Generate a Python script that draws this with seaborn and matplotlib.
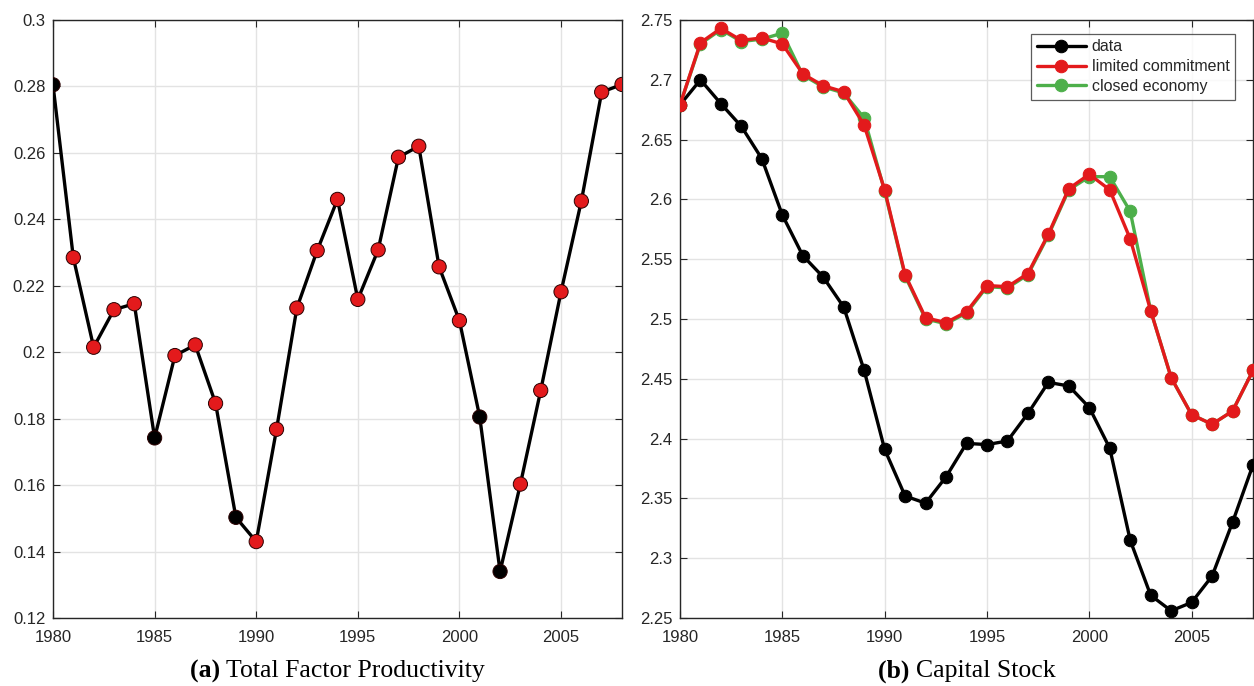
import numpy as np
import pandas as pd
import matplotlib
matplotlib.use("Agg")
import matplotlib.pyplot as plt
import seaborn as sns

years = list(range(1980, 2009))

tfp = [0.2805, 0.2285, 0.2015, 0.2128, 0.2146, 0.1742, 0.1990, 0.2022, 0.1846, 0.1503,
       0.1430, 0.1768, 0.2133, 0.2306, 0.2460, 0.2159, 0.2308, 0.2587, 0.2620, 0.2257,
       0.2095, 0.1805, 0.1340, 0.1603, 0.1885, 0.2182, 0.2455, 0.2783, 0.2806]
# years whose TFP point is drawn in black rather than red
tfp_black_years = [1980, 1985, 1989, 2001, 2002]

k_data = [2.679, 2.700, 2.680, 2.661, 2.634, 2.587, 2.553, 2.535, 2.510, 2.457,
          2.391, 2.352, 2.346, 2.368, 2.396, 2.395, 2.398, 2.421, 2.447, 2.444,
          2.426, 2.392, 2.315, 2.269, 2.256, 2.263, 2.285, 2.330, 2.378]
k_limited = [2.679, 2.731, 2.743, 2.733, 2.735, 2.730, 2.705, 2.695, 2.690, 2.662,
             2.608, 2.537, 2.501, 2.497, 2.506, 2.528, 2.527, 2.538, 2.571, 2.609,
             2.621, 2.608, 2.567, 2.507, 2.451, 2.420, 2.412, 2.423, 2.457]
k_closed = [2.679, 2.730, 2.742, 2.732, 2.734, 2.739, 2.704, 2.694, 2.689, 2.668,
            2.607, 2.536, 2.500, 2.496, 2.505, 2.527, 2.526, 2.537, 2.570, 2.608,
            2.619, 2.619, 2.590, 2.507, 2.451, 2.420, 2.412, 2.423, 2.457]

series_names = ["data", "limited commitment", "closed economy"]
series_colors = ["#000000", "#e31a1c", "#4daf4a"]
# drawing order, bottom to top
draw_order = ["closed economy", "data", "limited commitment"]

xticks = [1980, 1985, 1990, 1995, 2000, 2005]
tfp_ticks = [0.12, 0.14, 0.16, 0.18, 0.2, 0.22, 0.24, 0.26, 0.28, 0.3]
tfp_ticklabels = ["0.12", "0.14", "0.16", "0.18", "0.2", "0.22", "0.24", "0.26", "0.28", "0.3"]
k_ticks = [2.25, 2.3, 2.35, 2.4, 2.45, 2.5, 2.55, 2.6, 2.65, 2.7, 2.75]
k_ticklabels = ["2.25", "2.3", "2.35", "2.4", "2.45", "2.5", "2.55", "2.6", "2.65", "2.7", "2.75"]

captions = [("(a)", "Total Factor Productivity"), ("(b)", "Capital Stock")]

sns.set_theme(style="whitegrid")
plt.rcParams["font.family"] = ["Liberation Sans", "DejaVu Sans"]

W, H = 1254, 686
fig = plt.figure(figsize=(W / 100, H / 100), dpi=100)
ax1 = fig.add_axes([53 / W, 1 - 618 / H, (622 - 53) / W, (618 - 20) / H])
ax2 = fig.add_axes([680 / W, 1 - 618 / H, (1253 - 680) / W, (618 - 20) / H])

# Panel (a): TFP
df_tfp = pd.DataFrame({"year": years, "tfp": tfp})
df_tfp["kind"] = np.where(df_tfp["year"].isin(tfp_black_years), "black", "red")
sns.lineplot(data=df_tfp, x="year", y="tfp", ax=ax1, color="black", lw=2.4, zorder=3)
sns.scatterplot(data=df_tfp, x="year", y="tfp", hue="kind",
                palette={"black": "#000000", "red": "#e31a1c"},
                s=105, edgecolor="#2a0000", linewidth=0.7, ax=ax1, zorder=4, legend=False)
ax1.set_ylim(0.12, 0.3)
ax1.set_yticks(tfp_ticks)
ax1.set_yticklabels(tfp_ticklabels)

# Panel (b): capital stock
df_k = pd.DataFrame({
    "year": years * 3,
    "value": k_data + k_limited + k_closed,
    "series": np.repeat(series_names, len(years)),
})
for z, name in enumerate(draw_order):
    i = series_names.index(name)
    sns.lineplot(data=df_k[df_k["series"] == name], x="year", y="value", ax=ax2,
                 color=series_colors[i], lw=2.4, marker="o", markersize=9,
                 markeredgecolor=series_colors[i], label=name, zorder=3 + z)
ax2.set_ylim(2.25, 2.75)
ax2.set_yticks(k_ticks)
ax2.set_yticklabels(k_ticklabels)

handles, labels = ax2.get_legend_handles_labels()
hmap = dict(zip(labels, handles))
leg = ax2.legend([hmap[n] for n in series_names], series_names, loc="upper right",
                 bbox_to_anchor=(0.969, 0.977), fontsize=11.5, frameon=True, fancybox=False,
                 handlelength=3.1, handletextpad=0.35, borderpad=0.35, labelspacing=0.3,
                 borderaxespad=0)
leg.get_frame().set_edgecolor("#333333")
leg.get_frame().set_linewidth(0.9)

for ax in (ax1, ax2):
    ax.set_xlim(1980, 2008)
    ax.set_xticks(xticks)
    ax.set_xlabel("")
    ax.set_ylabel("")
    ax.set_facecolor("white")
    ax.grid(True, color="#e3e3e3", lw=1.0)
    for s in ax.spines.values():
        s.set_visible(True)
        s.set_color("#262626")
        s.set_linewidth(1.0)
    ax.tick_params(axis="both", direction="in", length=5, width=0.8, colors="#262626",
                   labelcolor="#262626", labelsize=12, top=True, right=True,
                   bottom=True, left=True)
    ax.tick_params(axis="y", pad=5.5)
    ax.tick_params(axis="x", pad=9)

# Subfigure captions: bold tag followed by regular text, centred under each panel
for ax, (tag, text) in zip((ax1, ax2), captions):
    pos = ax.get_position()
    xc = (pos.x0 + pos.x1) / 2
    t = fig.text(xc, 1 - 671 / H, tag + " ", ha="left", va="center", fontsize=18.5,
                 family="Liberation Serif", weight="bold", color="black")
    t2 = fig.text(xc, 1 - 671 / H, text, ha="left", va="center", fontsize=18.5,
                  family="Liberation Serif", color="black")
    fig.canvas.draw()
    w1 = t.get_window_extent().width
    w2 = t2.get_window_extent().width
    x0 = xc - (w1 + w2) / 2 / W
    t.set_x(x0)
    t2.set_x(x0 + w1 / W)

fig.savefig("out.png", dpi=100, facecolor="white")
